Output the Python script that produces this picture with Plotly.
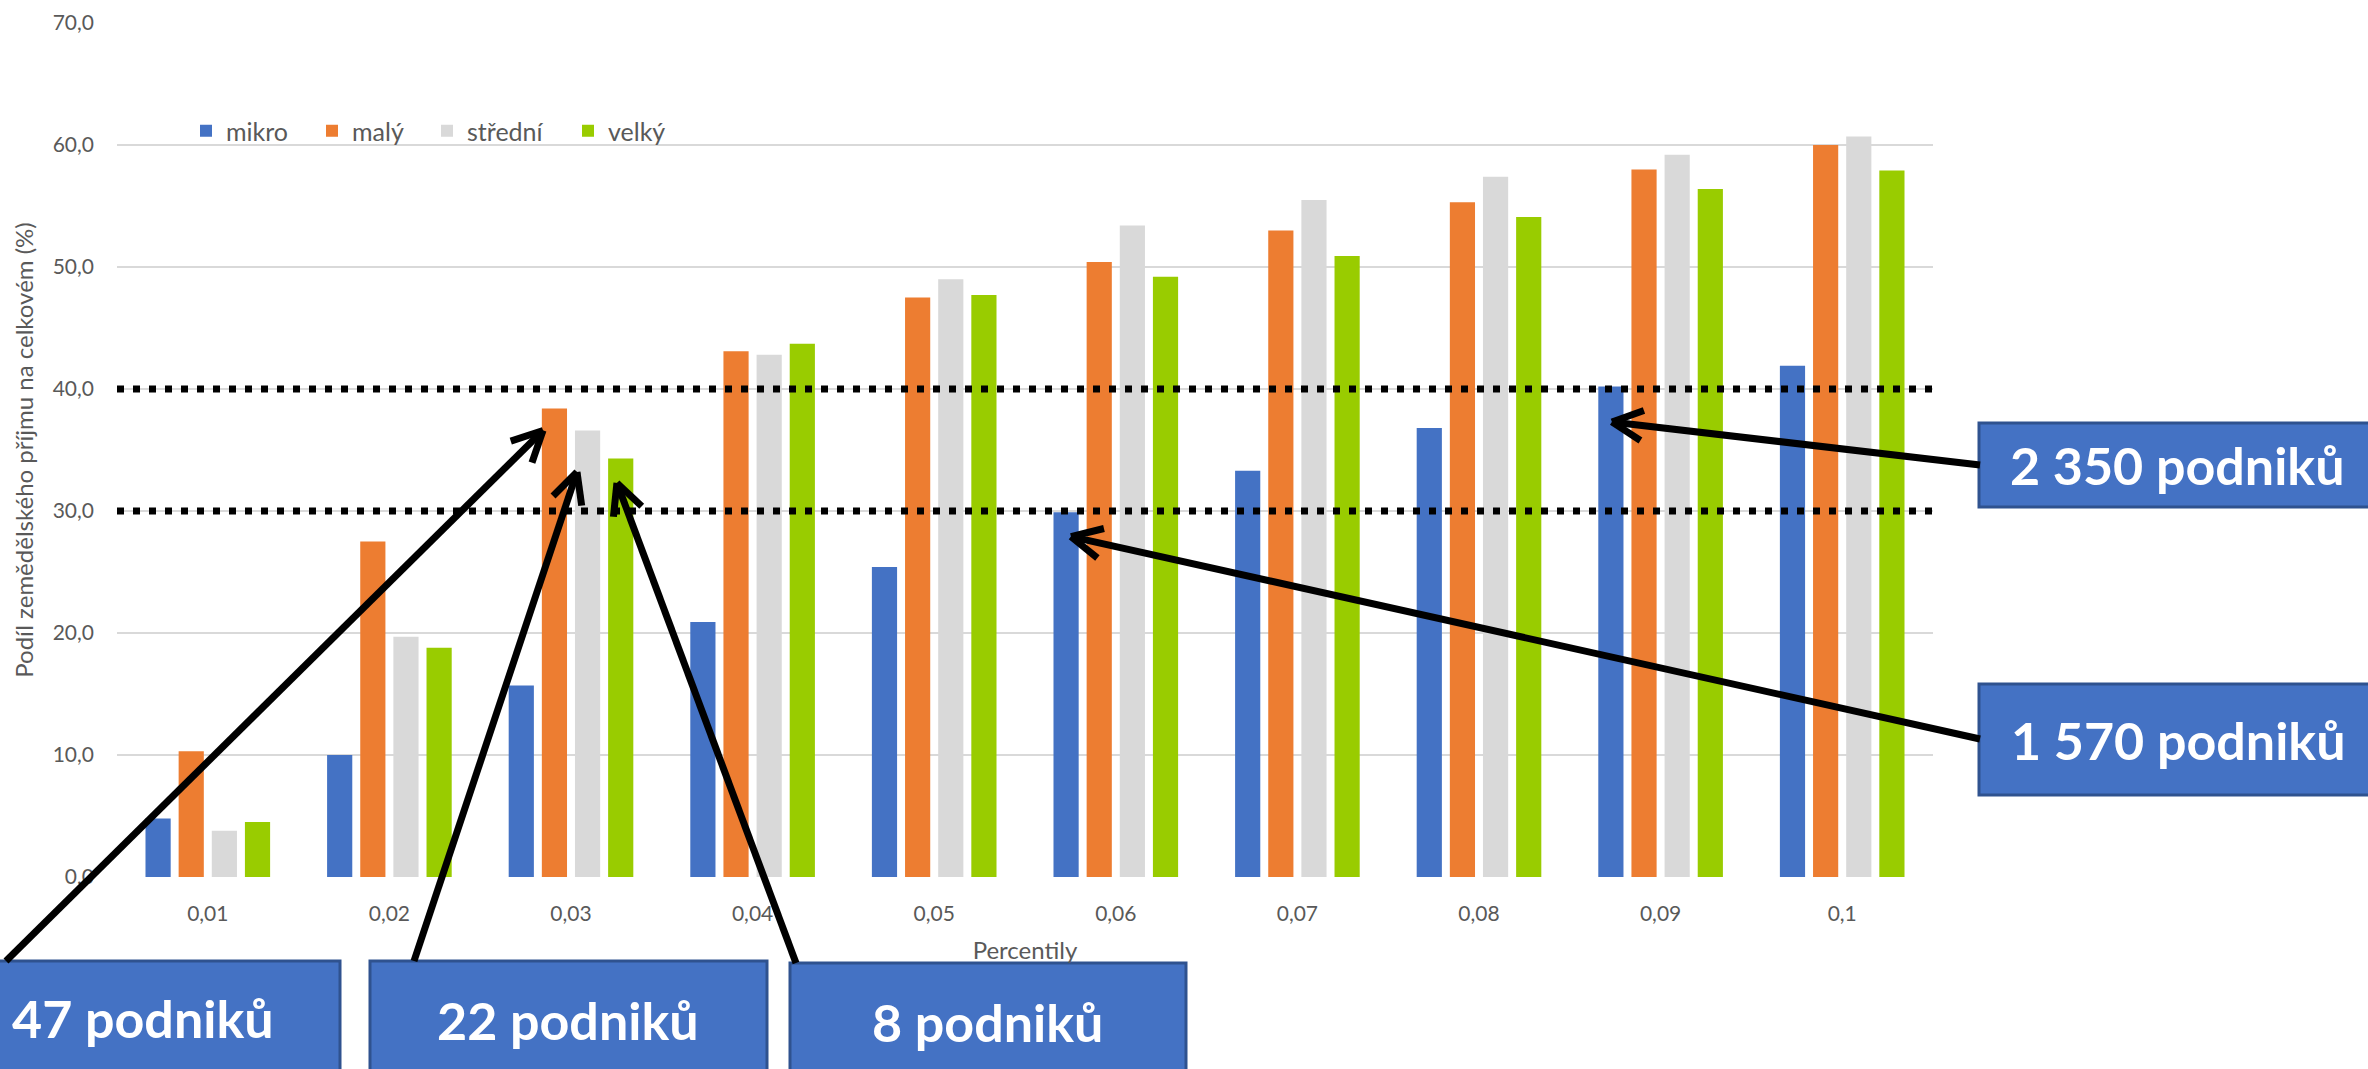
"""Podíl zemědělského příjmu na celkovém podle percentilů a velikosti podniku."""

import math

import plotly.graph_objects as go

# data
percentily = ["0,01", "0,02", "0,03", "0,04", "0,05", "0,06", "0,07", "0,08", "0,09", "0,1"]
mikro = [4.8, 10.0, 15.7, 20.9, 25.4, 29.9, 33.3, 36.8, 40.2, 41.9]
maly = [10.3, 27.5, 38.4, 43.1, 47.5, 50.4, 53.0, 55.3, 58.0, 60.0]
stredni = [3.8, 19.7, 36.6, 42.8, 49.0, 53.4, 55.5, 57.4, 59.2, 60.7]
velky = [4.5, 18.8, 34.3, 43.7, 47.7, 49.2, 50.9, 54.1, 56.4, 57.9]
series_names = ["mikro", "malý", "střední", "velký"]
series_colors = ["#4472C4", "#ED7D31", "#D9D9D9", "#99CC00"]
legend_widths = [81, 70, 96, None]
thresholds = [30, 40]
callout_texts = ["47 podniků", "22 podniků", "8 podniků", "2 350 podniků", "1 570 podniků"]
# arrow tips: (category index, value)
callout_tips = [(1.846, 36.6), (2.033, 33.2), (2.253, 32.3), (7.732, 37.3), (4.753, 27.9)]

W, H = 2368, 1069
PL, PR, PT, PB = 117, 1933, 23, 877
Y_MAX = 70

# callout boxes (pixel layout), text centre and arrow tail
boxes = [
    dict(x0=-60, x1=340, y0=961, y1=1090, text=(143, 1018), tail=(6, 961)),
    dict(x0=370, x1=767, y0=961, y1=1090, text=(568, 1020), tail=(414, 961)),
    dict(x0=790, x1=1186, y0=963, y1=1090, text=(987, 1022), tail=(796, 963)),
    dict(x0=1979, x1=2390, y0=423, y1=507, text=(2177, 465), tail=(1980, 465)),
    dict(x0=1979, x1=2390, y0=684, y1=795, text=(2178, 740), tail=(1980, 739)),
]


def px_x(px):
    return (px - PL) / (PR - PL)


def px_y(py):
    return (PB - py) / (PB - PT)


def data_px(idx, val):
    return PL + (idx + 0.5) * (PR - PL) / len(percentily), PB - val * (PB - PT) / Y_MAX


fig = go.Figure()
for name, vals, color, lw in zip(series_names, [mikro, maly, stredni, velky],
                                 series_colors, legend_widths):
    fig.add_trace(go.Bar(x=percentily, y=vals, name=name, marker_color=color,
                         marker_line_width=0, legendwidth=lw))

shapes = []
for t in thresholds:
    shapes.append(dict(type="line", xref="paper", yref="y", x0=0, x1=1, y0=t, y1=t,
                       line=dict(color="black", width=7, dash="7px,9px"), layer="above"))

annotations = []
for box, text, tip in zip(boxes, callout_texts, callout_tips):
    shapes.append(dict(type="rect", xref="paper", yref="paper",
                       x0=px_x(box["x0"]), x1=px_x(box["x1"]),
                       y0=px_y(box["y0"]), y1=px_y(box["y1"]),
                       fillcolor="#4472C4", line=dict(color="#2F528F", width=3), layer="above"))
    cx, cy = box["text"]
    annotations.append(dict(xref="paper", yref="paper", x=px_x(cx), y=px_y(cy),
                            text=text, showarrow=False, xanchor="center", yanchor="middle",
                            font=dict(family="Lato", size=52, color="white", weight="bold")))
    # arrow: shaft plus open head
    tx, ty = data_px(*tip)
    sx, sy = box["tail"]
    shapes.append(dict(type="line", xref="paper", yref="paper",
                       x0=px_x(sx), y0=px_y(sy), x1=px_x(tx), y1=px_y(ty),
                       line=dict(color="black", width=7), layer="above"))
    ang = math.atan2(sy - ty, sx - tx)
    for d in (-0.46, 0.46):
        ax = tx + 34 * math.cos(ang + d)
        ay = ty + 34 * math.sin(ang + d)
        shapes.append(dict(type="line", xref="paper", yref="paper",
                           x0=px_x(tx), y0=px_y(ty), x1=px_x(ax), y1=px_y(ay),
                           line=dict(color="black", width=7), layer="above"))

fig.update_layout(
    width=W,
    height=H,
    margin=dict(l=PL, r=W - PR, t=PT, b=H - PB, autoexpand=False),
    paper_bgcolor="white",
    plot_bgcolor="white",
    separators=", ",
    font=dict(family="Lato", size=21, color="#595959"),
    barmode="group",
    bargap=0.27,
    bargroupgap=0.24,
    showlegend=True,
    legend=dict(orientation="h", x=px_x(186), xanchor="left", y=px_y(131),
                yanchor="middle", font=dict(size=25, color="#595959"),
                bgcolor="rgba(0,0,0,0)"),
    xaxis=dict(
        title=dict(text="Percentily", font=dict(size=24), standoff=18),
        showgrid=False,
        showline=False,
        zeroline=False,
        ticks="",
        ticklabelstandoff=22,
        automargin=False,
    ),
    yaxis=dict(
        title=dict(text="Podíl zemědělského příjmu na celkovém (%)", font=dict(size=24),
                   standoff=12),
        range=[0, Y_MAX],
        dtick=10,
        tickformat=".1f",
        showgrid=True,
        gridcolor="#D9D9D9",
        gridwidth=2,
        showline=False,
        zeroline=False,
        ticks="",
        ticklabelstandoff=22,
        automargin=False,
    ),
    shapes=shapes,
    annotations=annotations,
)

# drop the default page margin so the chart sits at the window origin
fig.write_html("out.html", config={"displayModeBar": False},
               post_script="document.body.style.margin='0';")
